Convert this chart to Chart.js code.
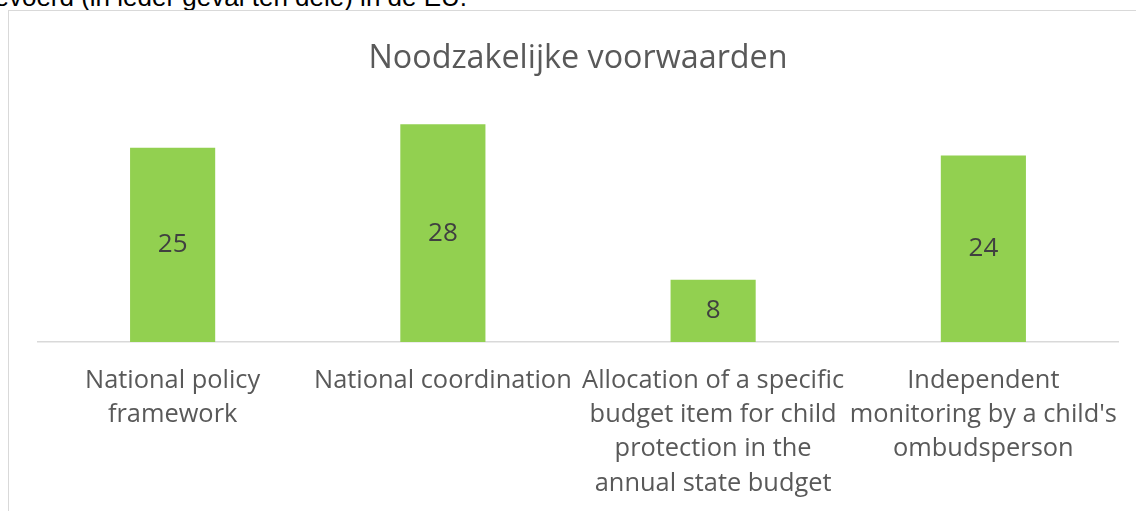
<!DOCTYPE html>
<html>
<head>
<meta charset="utf-8">
<script src="https://cdn.jsdelivr.net/npm/chart.js@4/dist/chart.umd.min.js"></script>
<style>
  html, body { margin: 0; padding: 0; background: #fff; overflow: hidden; }
  body { width: 1136px; height: 511px; position: relative; }
  #pretext { position: absolute; left: -20px; top: -18px; font-family: "Liberation Sans", Arial, sans-serif; font-size: 26px; color: #000; white-space: nowrap; line-height: 30px; }
  #box { position: absolute; left: 8px; top: 10px; width: 1140px; height: 520px; border: 1px solid #d9d9d9; box-sizing: border-box; background: #fff; }
  #wrap { position: absolute; left: 9px; top: 11px; width: 1127px; height: 500px; }
</style>
</head>
<body>
<div id="pretext">gevoerd (in ieder geval ten dele) in de EU.</div>
<div id="box"></div>
<div id="wrap"><canvas id="c"></canvas></div>
<script>
const chartTitle = "Noodzakelijke voorwaarden";
const categories = [
  ["National policy", "framework"],
  ["National coordination"],
  ["Allocation of a specific", "budget item for child", "protection in the", "annual state budget"],
  ["Independent", "monitoring by a child's", "ombudsperson"]
];
const values = [25, 28, 8, 24];

const FONT = "'Open Sans', 'Noto Sans', sans-serif";

const centerLabels = {
  id: 'centerLabels',
  afterDatasetsDraw(chart) {
    const ctx = chart.ctx;
    const meta = chart.getDatasetMeta(0);
    ctx.save();
    ctx.font = "26px " + FONT;
    ctx.fillStyle = '#404040';
    ctx.textAlign = 'center';
    ctx.textBaseline = 'middle';
    meta.data.forEach((bar, i) => {
      const p = bar.getProps(['x', 'y', 'base'], true);
      ctx.fillText(String(values[i]), p.x, (p.y + p.base) / 2);
    });
    ctx.restore();
  }
};

new Chart(document.getElementById('c'), {
  type: 'bar',
  data: {
    labels: categories,
    datasets: [{
      data: values,
      backgroundColor: '#92d050',
      borderWidth: 0,
      categoryPercentage: 1.0,
      barPercentage: 0.315
    }]
  },
  options: {
    responsive: true,
    maintainAspectRatio: false,
    animation: false,
    layout: { padding: { left: 28.5, right: 17.5, top: 0, bottom: -11 } },
    plugins: {
      legend: { display: false },
      tooltip: { enabled: false },
      title: {
        display: true,
        text: chartTitle,
        color: '#595959',
        font: { family: FONT, size: 32.3, weight: 'normal', lineHeight: 1.2 },
        padding: { top: 28, bottom: 31 }
      }
    },
    scales: {
      y: { display: false, min: 0, max: 30 },
      x: {
        afterFit(scale) { scale.paddingLeft = 0; scale.paddingRight = 0; },
        grid: { display: false, drawTicks: false },
        border: { display: true, color: '#d9d9d9', width: 1.5 },
        ticks: {
          color: '#595959',
          font: { family: FONT, size: 25.4, lineHeight: 1.358 },
          padding: 21,
          maxRotation: 0,
          minRotation: 0,
          autoSkip: false
        }
      }
    }
  },
  plugins: [centerLabels]
});
</script>
</body>
</html>
